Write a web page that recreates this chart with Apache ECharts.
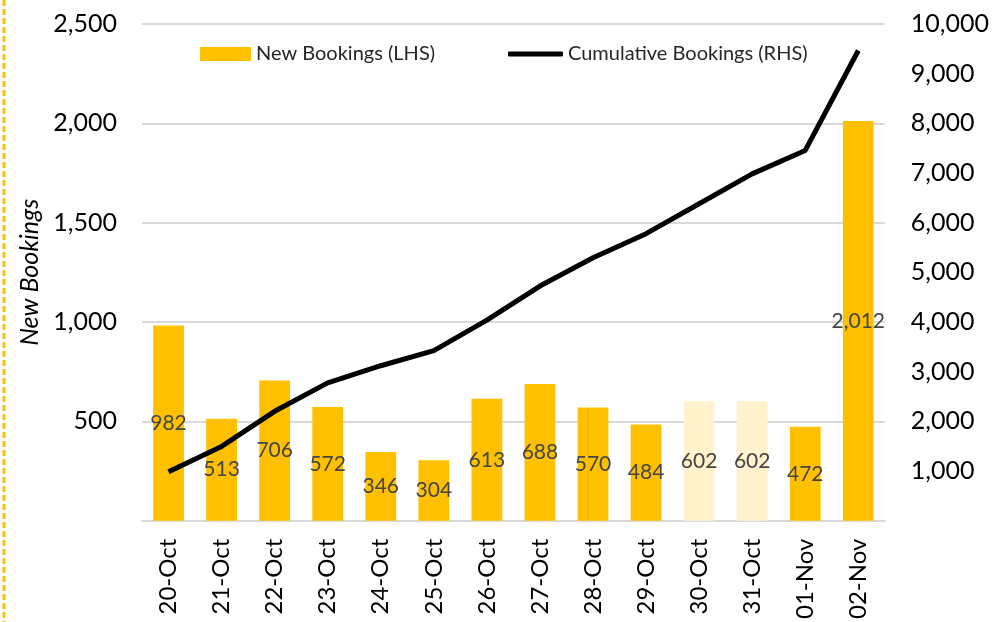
<!DOCTYPE html>
<html>
<head>
<meta charset="utf-8">
<script src="https://cdn.jsdelivr.net/npm/echarts@6/dist/echarts.min.js"></script>
<style>
  html, body { margin: 0; padding: 0; background: #fff; }
  #main { width: 992px; height: 622px; }
</style>
</head>
<body>
<div id="main"></div>
<script>
// data
const days = ["20-Oct", "21-Oct", "22-Oct", "23-Oct", "24-Oct", "25-Oct", "26-Oct",
  "27-Oct", "28-Oct", "29-Oct", "30-Oct", "31-Oct", "01-Nov", "02-Nov"];
const newBookings = [982, 513, 706, 572, 346, 304, 613, 688, 570, 484, 602, 602, 472, 2012];
const cumulative = [982, 1495, 2201, 2773, 3119, 3423, 4036, 4724, 5294, 5778, 6380, 6982, 7454, 9466];
// days shown as estimates (pale bars)
const estimated = ["30-Oct", "31-Oct"];

const fmt = function (v) {
  return v === 0 ? "" : v.toLocaleString("en-US");
};

let myChart = echarts.init(document.getElementById("main"));

let barData = [];
for (let i = 0; i < newBookings.length; i++) {
  barData.push({
    value: newBookings[i],
    itemStyle: { color: estimated.indexOf(days[i]) >= 0 ? "#FFF2CC" : "#FFC000" }
  });
}

let legendText = { fontFamily: "Lato", fontSize: 20, color: "#262626" };

let option = {
  animation: false,
  textStyle: { fontFamily: "Lato" },
  grid: { left: 142, right: 101, top: 24, bottom: 101 },
  legend: [
    {
      top: 44,
      left: 200,
      padding: 0,
      itemWidth: 51,
      itemHeight: 14,
      textStyle: legendText,
      data: [{ name: "New Bookings (LHS)", icon: "rect" }]
    },
    {
      top: 44,
      left: 508,
      padding: 0,
      itemWidth: 55,
      itemHeight: 5,
      textStyle: legendText,
      data: [{ name: "Cumulative Bookings (RHS)", icon: "roundRect" }]
    }
  ],
  xAxis: {
    type: "category",
    data: days,
    axisLine: { lineStyle: { color: "#D9D9D9", width: 2 } },
    axisTick: { show: false },
    axisLabel: {
      rotate: 90,
      margin: 18,
      fontSize: 24,
      color: "#000",
      fontFamily: "Lato"
    }
  },
  yAxis: [
    {
      type: "value",
      min: 0,
      max: 2500,
      interval: 500,
      name: "New Bookings",
      nameLocation: "middle",
      nameRotate: 90,
      nameGap: 100,
      nameTextStyle: { fontSize: 25, fontStyle: "italic", color: "#000", fontFamily: "Lato" },
      axisLine: { show: false },
      axisTick: { show: false },
      splitLine: { lineStyle: { color: "#D9D9D9", width: 2 } },
      axisLabel: { formatter: fmt, fontSize: 25, color: "#000", margin: 25, fontFamily: "Lato" }
    },
    {
      type: "value",
      min: 0,
      max: 10000,
      interval: 1000,
      axisLine: { show: false },
      axisTick: { show: false },
      splitLine: { show: false },
      axisLabel: { formatter: fmt, fontSize: 25, color: "#000", margin: 26, fontFamily: "Lato" }
    }
  ],
  series: [
    {
      name: "New Bookings (LHS)",
      type: "bar",
      yAxisIndex: 0,
      barCategoryGap: "42%",
      itemStyle: { color: "#FFC000" },
      data: barData,
      label: {
        show: true,
        position: "inside",
        fontSize: 21,
        color: "#454545",
        fontFamily: "Lato",
        formatter: function (p) { return p.value.toLocaleString("en-US"); }
      }
    },
    {
      name: "Cumulative Bookings (RHS)",
      type: "line",
      yAxisIndex: 1,
      symbol: "none",
      z: 3,
      lineStyle: { color: "#000", width: 5 },
      itemStyle: { color: "#000" },
      data: cumulative
    }
  ],
  graphic: [
    {
      type: "line",
      shape: { x1: 4, y1: 0, x2: 4, y2: 622 },
      style: { stroke: "#FFC000", lineWidth: 3, lineDash: [6, 3] }
    }
  ]
};

myChart.setOption(option);
window.addEventListener("resize", function () {
  myChart.resize();
});
</script>
</body>
</html>
